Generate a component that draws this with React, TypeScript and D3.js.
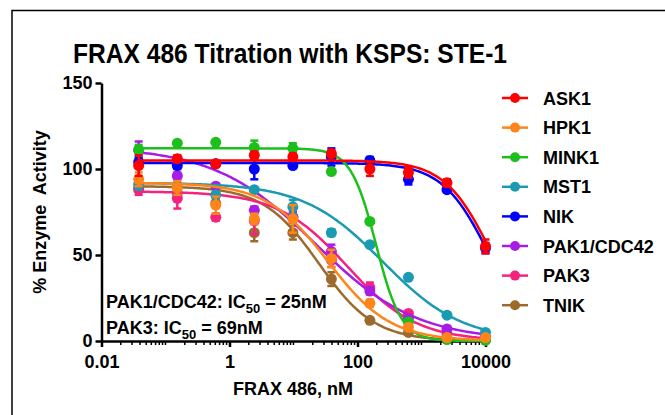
import * as d3 from "d3";
import React, { useEffect, useRef } from "react";

// FRAX 486 concentrations (nM), 4-fold dilutions
const concentrations = [0.0381, 0.153, 0.61, 2.44, 9.77, 39.1, 156, 625, 2500, 10000];

const kinases = ["ASK1", "HPK1", "MINK1", "MST1", "NIK", "PAK1/CDC42", "PAK3", "TNIK"];
const colors = ["#ff0000", "#ff8419", "#1dbf1d", "#1a9bb2", "#0000ff", "#a81de6", "#f5237f", "#9c6a2c"];

// % enzyme activity per kinase
const ask1 = [102, 106, 103, 108, 107, 109, 100, 98, 92, 55];
const hpk1 = [94, 89, 79, 71, 71, 48, 22, 8, 2, 2];
const mink1 = [111, 115, 115.5, 112.5, 112, 98.5, 69.5, 11, 1, 0.5];
const mst1 = [91, 90, 85, 88, 78, 63, 56, 37, 15, 5];
const nik = [104, 102, 103, 100, 102, 107, 105, 94, 88, 54];
const pak1 = [111, 96, 90, 76, 72, 52, 29, 13, 7, 2];
const pak3 = [88, 83, 72, 70, 72, 47, 31, 16, 4, 2];
const tnik = [89, 86, 80, 63, 63, 36, 12, 5, 1, 0.5];

// error bars (SEM)
const ask1Err = [6, 2, 1, 2, 2, 2, 4, 3, 2, 4];
const hpk1Err = [4, 4, 5, 3, 8, 5, 2, 1, 1, 1];
const mink1Err = [3, 1, 1, 4, 3, 1, 1, 2, 1, 1];
const mst1Err = [3, 2, 2, 1, 4, 2, 1, 1, 1, 1];
const nikErr = [3, 2, 1, 6, 1, 5, 2, 3, 1, 3];
const pak1Err = [5, 2, 1, 2, 3, 4, 2, 1, 1, 1];
const pak3Err = [3, 6, 2, 8, 3, 4, 3, 1, 1, 1];
const tnikErr = [2, 2, 2, 5, 4, 4, 1, 1, 1, 1];

// sigmoidal dose-response fits (bottom = 0)
const fitTop = [105, 92, 112, 92, 103.5, 113, 87, 90];
const fitIc50 = [12000, 35, 195, 250, 11000, 22, 69, 25];
const fitHill = [1.2, 0.9, 2.2, 0.7, 1.2, 0.55, 0.8, 1.0];

const yTicks = [0, 50, 100, 150];
const xTicks = [0.01, 1, 100, 10000];

const activity = [ask1, hpk1, mink1, mst1, nik, pak1, pak3, tnik];
const errors = [ask1Err, hpk1Err, mink1Err, mst1Err, nikErr, pak1Err, pak3Err, tnikErr];

const font = "'Liberation Sans', Arial, sans-serif";

const IC50Chart: React.FC = () => {
  const svgRef = useRef<SVGSVGElement>(null);

  useEffect(() => {
    const svg = d3.select(svgRef.current);
    svg.selectAll("*").remove();

    const x = d3.scaleLog().domain([0.01, 10000]).range([101.5, 485.5]);
    const y = d3.scaleLinear().domain([0, 150]).range([341, 83]);

    // border of the panel
    svg
      .append("path")
      .attr("d", "M12,415V10.5H665")
      .attr("fill", "none")
      .attr("stroke", "#000")
      .attr("stroke-width", 1.5);

    svg
      .append("text")
      .attr("x", 290)
      .attr("y", 63)
      .attr("text-anchor", "middle")
      .attr("font-family", font)
      .attr("font-weight", "bold")
      .attr("font-size", 28)
      .attr("textLength", 434)
      .attr("lengthAdjust", "spacingAndGlyphs")
      .text("FRAX 486 Titration with KSPS: STE-1");

    // y axis
    const yAxis = svg
      .append("g")
      .attr("transform", `translate(${x(0.01)},0)`)
      .call(d3.axisLeft(y).tickValues(yTicks).tickSize(6).tickPadding(3).tickSizeOuter(0));
    yAxis.select(".domain").attr("stroke-width", 2.5);
    yAxis.selectAll(".tick line").attr("stroke-width", 2.5);
    yAxis
      .selectAll(".tick text")
      .attr("font-family", font)
      .attr("font-weight", "bold")
      .attr("font-size", 18)
      .attr("fill", "#000");

    // x axis
    const xAxis = svg
      .append("g")
      .attr("transform", `translate(0,${y(0)})`)
      .call(
        d3
          .axisBottom(x)
          .tickValues(xTicks)
          .tickFormat((d) => String(d))
          .tickSize(6)
          .tickPadding(8)
          .tickSizeOuter(0)
      );
    xAxis.select(".domain").attr("stroke-width", 2.5);
    xAxis.selectAll(".tick line").attr("stroke-width", 2.5);
    xAxis
      .selectAll(".tick text")
      .attr("font-family", font)
      .attr("font-weight", "bold")
      .attr("font-size", 18)
      .attr("fill", "#000");

    const minor: number[] = [];
    for (let k = -2; k < 4; k++) {
      for (let m = 1; m < 10; m++) {
        const v = m * Math.pow(10, k);
        if (!xTicks.includes(v)) minor.push(v);
      }
    }
    xAxis
      .selectAll(".minor")
      .data(minor)
      .enter()
      .append("line")
      .attr("x1", (d) => x(d))
      .attr("x2", (d) => x(d))
      .attr("y1", 0)
      .attr("y2", 4)
      .attr("stroke", "#000")
      .attr("stroke-width", 1.5);

    svg
      .append("text")
      .attr("x", 293)
      .attr("y", 395)
      .attr("text-anchor", "middle")
      .attr("font-family", font)
      .attr("font-weight", "bold")
      .attr("font-size", 18)
      .text("FRAX 486, nM");

    svg
      .append("text")
      .attr("transform", "translate(46,212) rotate(-90)")
      .attr("text-anchor", "middle")
      .attr("font-family", font)
      .attr("font-weight", "bold")
      .attr("font-size", 18)
      .style("white-space", "pre")
      .text("% Enzyme  Activity");

    // series, drawn last-to-first so ASK1 sits on top
    const lo = Math.log10(concentrations[0]);
    const hi = Math.log10(concentrations[concentrations.length - 1]);
    const grid = d3.range(0, 201).map((i) => Math.pow(10, lo + ((hi - lo) * i) / 200));
    const line = d3
      .line<number[]>()
      .x((d) => x(d[0]))
      .y((d) => y(d[1]))
      .curve(d3.curveLinear);

    for (let s = kinases.length - 1; s >= 0; s--) {
      const color = colors[s];
      const g = svg.append("g");
      const fit = grid.map((c) => [c, fitTop[s] / (1 + Math.pow(c / fitIc50[s], fitHill[s]))]);
      g.append("path")
        .attr("d", line(fit))
        .attr("fill", "none")
        .attr("stroke", color)
        .attr("stroke-width", 2.5);

      const pts = concentrations.map((c, i) => ({ c, v: activity[s][i], e: errors[s][i] }));
      const eb = g.selectAll(".eb").data(pts).enter().append("g").attr("stroke", color).attr("stroke-width", 2.5);
      eb.append("line")
        .attr("x1", (d) => x(d.c))
        .attr("x2", (d) => x(d.c))
        .attr("y1", (d) => y(d.v - d.e))
        .attr("y2", (d) => y(d.v + d.e));
      eb.append("line")
        .attr("x1", (d) => x(d.c) - 4)
        .attr("x2", (d) => x(d.c) + 4)
        .attr("y1", (d) => y(d.v + d.e))
        .attr("y2", (d) => y(d.v + d.e));
      eb.append("line")
        .attr("x1", (d) => x(d.c) - 4)
        .attr("x2", (d) => x(d.c) + 4)
        .attr("y1", (d) => y(d.v - d.e))
        .attr("y2", (d) => y(d.v - d.e));

      g.selectAll("circle")
        .data(pts)
        .enter()
        .append("circle")
        .attr("cx", (d) => x(d.c))
        .attr("cy", (d) => y(d.v))
        .attr("r", 5.5)
        .attr("fill", color);
    }

    // legend
    const legend = svg
      .selectAll(".legend")
      .data(kinases)
      .enter()
      .append("g")
      .attr("transform", (_, i) => `translate(0,${98 + i * 29.6})`);
    legend
      .append("line")
      .attr("x1", 502)
      .attr("x2", 528)
      .attr("stroke", (_, i) => colors[i])
      .attr("stroke-width", 2.5);
    legend
      .append("circle")
      .attr("cx", 515)
      .attr("r", 5)
      .attr("fill", (_, i) => colors[i]);
    legend
      .append("text")
      .attr("x", 543)
      .attr("y", 6.5)
      .attr("font-family", font)
      .attr("font-weight", "bold")
      .attr("font-size", 18)
      .text((d) => d);

    // IC50 notes
    const notes = [
      ["PAK1/CDC42: IC", " = 25nM", 308],
      ["PAK3: IC", " = 69nM", 334],
    ] as const;
    notes.forEach(([a, b, yy]) => {
      const t = svg
        .append("text")
        .attr("x", 106)
        .attr("y", yy)
        .attr("font-family", font)
        .attr("font-weight", "bold")
        .attr("font-size", 18)
        .style("white-space", "pre");
      t.append("tspan").text(a);
      t.append("tspan").attr("font-size", 13).attr("dy", 5).text("50");
      t.append("tspan").attr("dy", -5).text(b);
    });
  }, []);

  return <svg ref={svgRef} width={665} height={415} style={{ position: "absolute", left: 0, top: 0, background: "#fff" }} />;
};

export default function App() {
  return <IC50Chart />;
}
